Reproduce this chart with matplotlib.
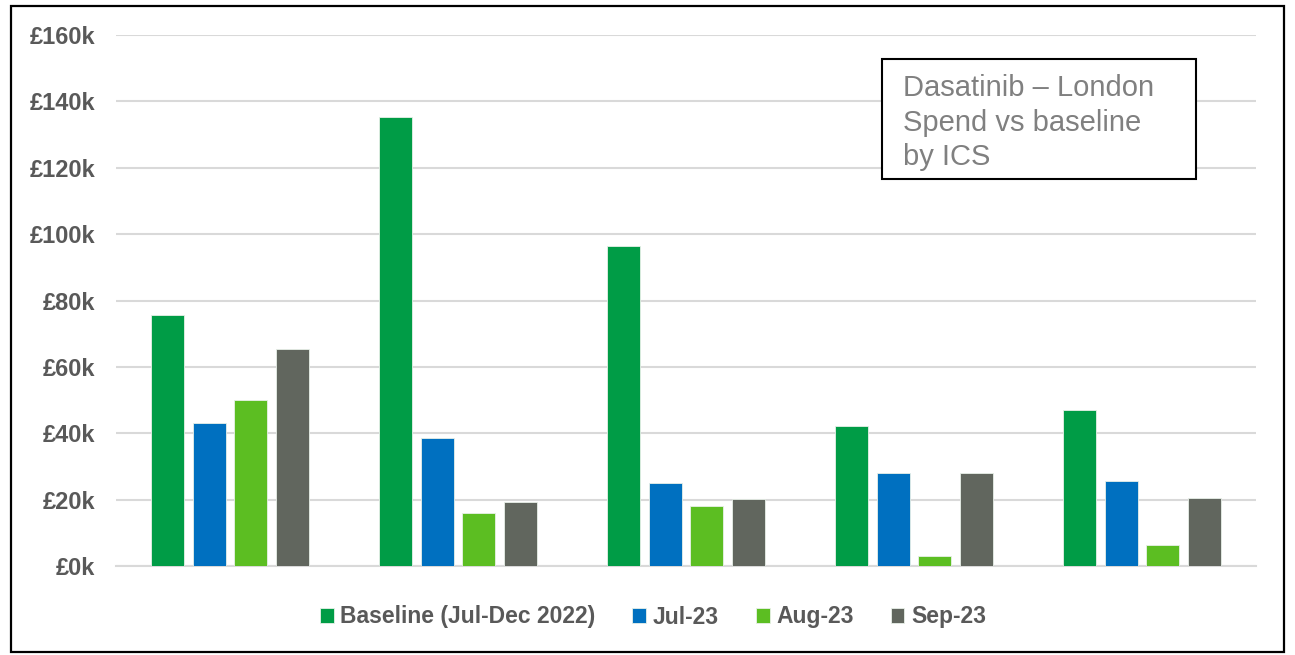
"""
Dasatinib spend in London by ICS: baseline vs Jul/Aug/Sep 2023 grouped bars.
"""

import matplotlib.pyplot as plt
import numpy as np
from matplotlib.patches import Rectangle

plt.rcParams["font.family"] = ["Liberation Sans", "DejaVu Sans"]

# five ICS areas (unlabelled on the axis)
ics = ["", "", "", "", ""]
series = ["Baseline (Jul-Dec 2022)", "Jul-23", "Aug-23", "Sep-23"]
baseline = [75.6, 135.3, 96.4, 42.2, 47.0]
jul23 = [43.1, 38.6, 25.0, 28.0, 25.6]
aug23 = [50.0, 16.0, 18.1, 3.0, 6.2]
sep23 = [65.4, 19.3, 20.2, 28.0, 20.4]
colors = ["#009C46", "#0070C0", "#5CBE22", "#61665E"]
yticks = [0, 20, 40, 60, 80, 100, 120, 140, 160]

W, H = 1295, 655
fig = plt.figure(figsize=(W / 100, H / 100), dpi=100)
ax = fig.add_axes([116 / W, 1 - 566 / H, 1140 / W, 531 / H])

x = np.arange(len(ics))
slot = 0.182
bar_w = 0.145
for i, (name, vals, c) in enumerate(zip(series, [baseline, jul23, aug23, sep23], colors)):
    ax.bar(x + (i - 1.5) * slot, vals, width=bar_w, color=c, label=name,
           edgecolor="#E8F0E8", linewidth=0.6, zorder=3)

ax.set_xlim(-0.5, len(ics) - 0.5)
ax.set_ylim(0, 160)
ax.set_yticks(yticks)
ax.set_yticklabels([f"£{v}k" for v in yticks], fontsize=17, fontweight="bold",
                   color="#595959")
ax.set_xticks(x)
ax.set_xticklabels(ics)
ax.tick_params(axis="both", length=0)
ax.tick_params(axis="y", pad=15)
ax.grid(axis="y", color="#D9D9D9", linewidth=1.5, zorder=0)
for side in ["top", "right", "left"]:
    ax.spines[side].set_visible(False)
ax.spines["bottom"].set_color("#D9D9D9")
ax.spines["bottom"].set_linewidth(1.5)

leg = fig.legend(loc="center", bbox_to_anchor=(653 / W, 1 - 617 / H), ncol=4,
                 frameon=False, handlelength=0.6, handleheight=0.6,
                 handletextpad=0.3, columnspacing=1.6,
                 prop={"size": 16.5, "weight": "bold"})
for t in leg.get_texts():
    t.set_color("#595959")

# title box
fig.patches.append(Rectangle((882 / W, 1 - 179 / H), 314 / W, 120 / H,
                             transform=fig.transFigure, facecolor="white",
                             edgecolor="black", linewidth=1.5, zorder=5))
fig.text(903 / W, 1 - 74 / H, "Dasatinib – London\nSpend vs baseline\nby ICS",
         fontsize=21, color="#808080", va="top", ha="left",
         linespacing=1.3, zorder=6)

# outer frame
fig.patches.append(Rectangle((11 / W, 1 - 652 / H), 1273 / W, 646 / H,
                             transform=fig.transFigure, fill=False,
                             edgecolor="black", linewidth=1.6, zorder=6))

fig.savefig("out.png", dpi=100)
